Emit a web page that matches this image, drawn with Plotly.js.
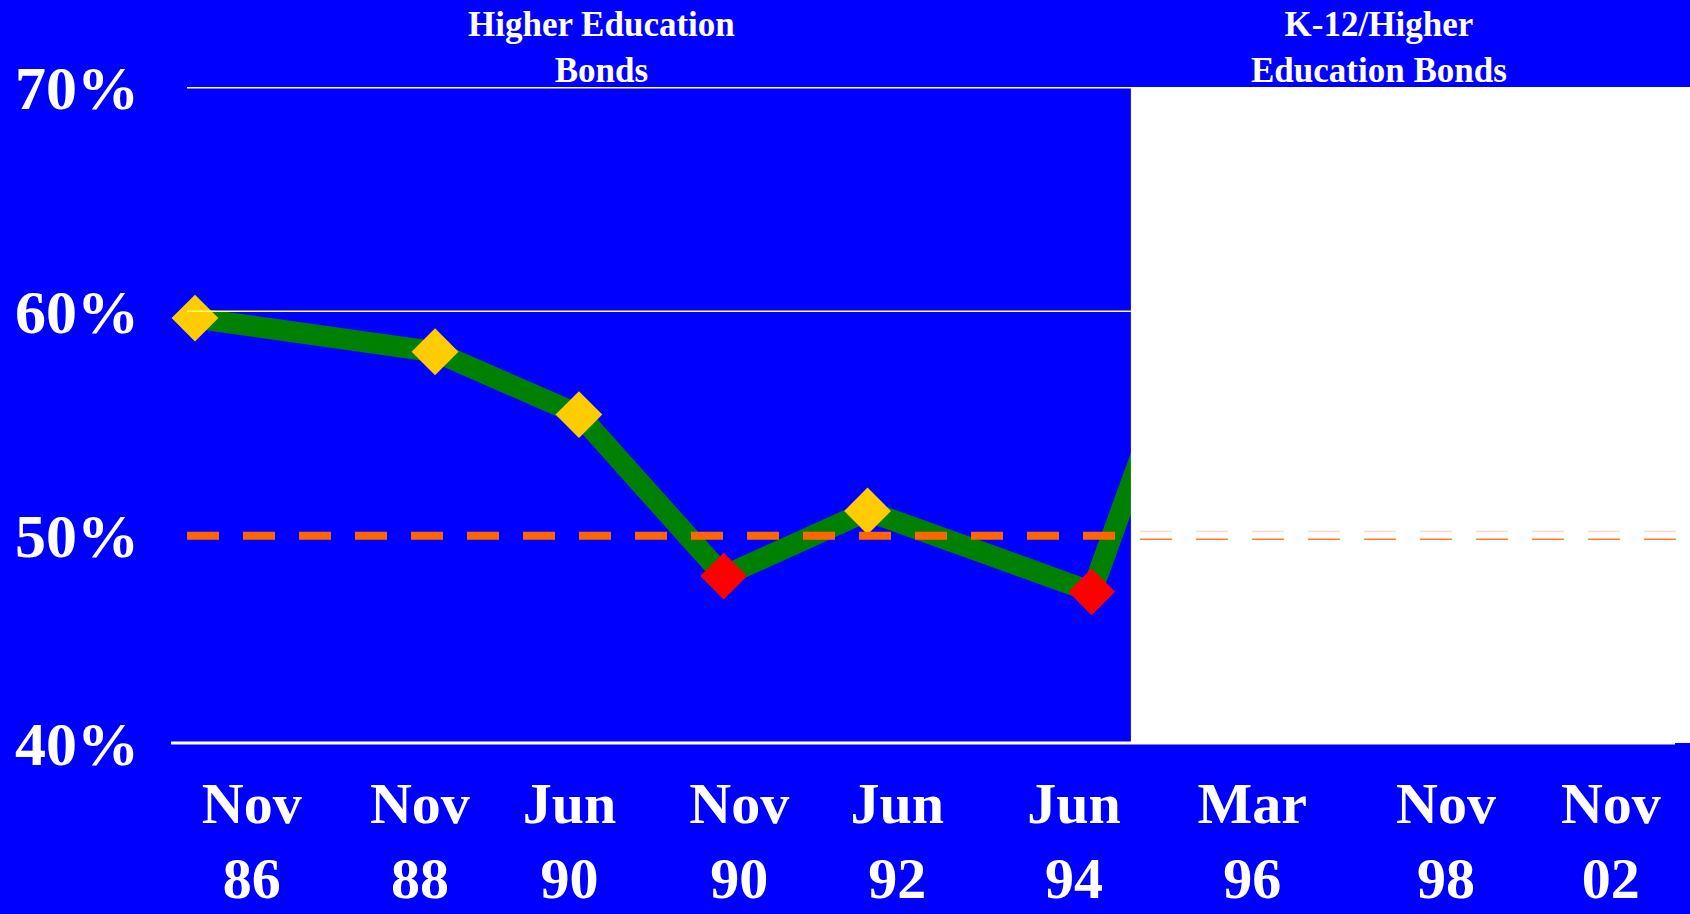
<!DOCTYPE html>
<html>
<head>
<meta charset="utf-8">
<script src="https://cdn.plot.ly/plotly-3.0.1.min.js"></script>
<style>
  html, body { margin: 0; padding: 0; background: #0000FF; }
  #chart { width: 1690px; height: 914px; }
</style>
</head>
<body>
<div id="chart"></div>
<script>
// ---- data ----
const tickLabels = ['Nov<br>86', 'Nov<br>88', 'Jun<br>90', 'Nov<br>90', 'Jun<br>92', 'Jun<br>94', 'Mar<br>96', 'Nov<br>98', 'Nov<br>02'];
const tickSlots  = [0, 0.99, 1.87, 2.87, 3.80, 4.84, 5.89, 7.03, 8.0];
const pointSlots = [-0.334, 1.079, 1.926, 2.778, 3.625, 4.944, 5.681];
const approval   = [59.7, 58.2, 55.4, 48.2, 51.1, 47.5, 62.9];
const yTicks     = [40, 50, 60, 70];
const yTickText  = ['40%', '50%', '60%', '70%'];
const majority   = 50;
const periodTitles = ['Higher Education<br>Bonds', 'K-12/Higher<br>Education Bonds'];

// ---- layout constants ----
const yMin = 40.76, yMax = 70;
const xMin = -0.381, xMax = 8.466;
const splitSlot = 5.175;   // where the white panel starts
const FONT = 'Liberation Serif, Times New Roman, serif';

const markerColors = approval.map(v => v >= majority ? '#FFCC00' : '#FF0000');

const trace = {
  x: pointSlots,
  y: approval,
  type: 'scatter',
  mode: 'lines+markers',
  line: { color: '#008000', width: 21 },
  marker: { symbol: 'diamond', size: 36, color: markerColors, line: { width: 0 } },
  hoverinfo: 'skip',
  cliponaxis: false
};

const shapes = [
  // 70% line
  { type: 'line', layer: 'above', xref: 'x', yref: 'y', x0: xMin, x1: 8.283, y0: 70, y1: 70,
    line: { color: '#FFFFFF', width: 3 } },
  // 60% yellow line
  { type: 'line', layer: 'above', xref: 'x', yref: 'y', x0: xMin, x1: splitSlot, y0: 60, y1: 60,
    line: { color: '#FFFF66', width: 1.5 } },
  // 50% orange dashed line (blue part)
  { type: 'line', layer: 'above', xref: 'x', yref: 'y', x0: xMin, x1: splitSlot, y0: majority, y1: majority,
    line: { color: '#FF6600', width: 8, dash: '32px,24px' } },
  // white panel
  { type: 'rect', layer: 'above', xref: 'x', yref: 'y', x0: splitSlot, x1: xMax, y0: yMin, y1: yMax,
    fillcolor: '#FFFFFF', line: { width: 0 } },
  // faint dashed outline on the white panel
  { type: 'line', layer: 'above', xref: 'x', yref: 'y', x0: 5.228, x1: xMax, y0: majority + 0.19, y1: majority + 0.19,
    line: { color: '#FFD9C4', width: 1.5, dash: '32px,24px' } },
  { type: 'line', layer: 'above', xref: 'x', yref: 'y', x0: 5.228, x1: xMax, y0: majority - 0.16, y1: majority - 0.16,
    line: { color: '#FF7A2E', width: 1.5, dash: '32px,24px' } },
  // bottom axis line
  { type: 'line', layer: 'above', xref: 'paper', yref: 'paper', x0: -0.0106, x1: 0.990, y0: 0, y1: 0,
    line: { color: '#FFFFFF', width: 3 } }
];

const annotations = [
  { text: periodTitles[0], xref: 'paper', yref: 'paper', x: 0.276, y: 1.0595, xanchor: 'center', yanchor: 'middle',
    showarrow: false, font: { family: FONT, size: 35, color: '#FFFFFF', weight: 'bold' } },
  { text: periodTitles[1], xref: 'paper', yref: 'paper', x: 0.793, y: 1.0595, xanchor: 'center', yanchor: 'middle',
    showarrow: false, font: { family: FONT, size: 35, color: '#FFFFFF', weight: 'bold' } }
];

const layout = {
  width: 1690, height: 914,
  margin: { l: 187, r: 0, t: 87, b: 171, pad: 0 },
  paper_bgcolor: '#0000FF',
  plot_bgcolor: '#0000FF',
  showlegend: false,
  xaxis: {
    range: [xMin, xMax], showgrid: false, zeroline: false, showline: false,
    tickmode: 'array', tickvals: tickSlots, ticktext: tickLabels, ticks: '',
    ticklabelstandoff: 21,
    tickfont: { family: FONT, size: 58, color: '#FFFFFF', weight: 'bold' }
  },
  yaxis: {
    range: [yMin, yMax], showgrid: false, zeroline: false, showline: false,
    tickmode: 'array', tickvals: yTicks.map(v => Math.max(v, yMin)), ticktext: yTickText, ticks: '',
    ticklabelstandoff: 47,
    tickfont: { family: FONT, size: 62, color: '#FFFFFF', weight: 'bold' }
  },
  shapes: shapes,
  annotations: annotations
};

Plotly.newPlot('chart', [trace], layout, { displayModeBar: false, staticPlot: true });
</script>
</body>
</html>
